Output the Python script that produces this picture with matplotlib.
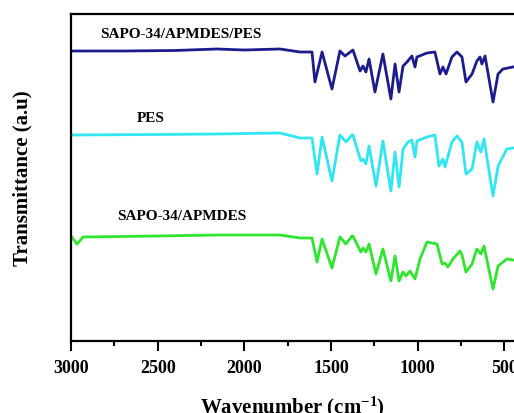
import matplotlib
matplotlib.use("Agg")
from matplotlib import pyplot as plt
from matplotlib.ticker import MultipleLocator

# FTIR spectra (wavenumber in cm-1, transmittance in arbitrary units, already offset)
wn_composite = [3000, 2700, 2400, 2160, 2000, 1795, 1679, 1610, 1593, 1552, 1495, 1449, 1420, 1374,
                1333, 1316, 1299, 1281, 1247, 1201, 1155, 1131, 1108, 1085, 1062, 1034, 1016, 1005,
                947, 901, 872, 855, 837, 803, 774, 745, 722, 687, 659, 641, 630, 612, 566, 537, 509, 451]
t_composite = [290, 290, 290.5, 292, 291, 292, 289, 289, 259, 289, 252, 290, 285, 291,
               270, 275, 269, 282, 249, 287, 242, 277, 249, 275, 279, 285, 274, 284,
               288, 289, 267, 274, 267, 284, 289, 284, 259, 267, 280, 284, 277, 285, 239, 267, 272, 274]

wn_pes = [3000, 2500, 2160, 1795, 1679, 1610, 1581, 1552, 1495, 1449, 1414, 1380, 1374,
          1328, 1316, 1299, 1281, 1241, 1201, 1155, 1131, 1108, 1085, 1057, 1034, 1016, 1005,
          947, 901, 878, 855, 843, 803, 774, 745, 722, 687, 659, 636, 618, 566, 537, 486, 451]
t_pes = [206, 206.5, 207, 208, 203, 203, 167, 204, 160, 206, 199, 206, 206,
         180, 182, 177, 195, 155, 200, 150, 189, 154, 192, 199, 201, 184, 200,
         204, 206, 175, 182, 174, 199, 205, 199, 167, 172, 199, 189, 202, 145, 175, 192, 193]

wn_sapo = [3000, 2965, 2930, 2500, 2160, 1795, 1679, 1610, 1581, 1552, 1495, 1449, 1414, 1380, 1374,
           1328, 1316, 1299, 1281, 1241, 1201, 1155, 1131, 1108, 1085, 1068, 1045, 1016,
           987, 947, 889, 860, 843, 826, 797, 757, 745, 722, 687, 659, 636, 618, 566, 537, 486, 451]
t_sapo = [105, 97, 104, 105, 106, 106, 103, 103, 79, 102, 73, 104, 97, 105, 105,
          89, 93, 89, 97, 67, 92, 60, 85, 60, 69, 65, 70, 62,
          82, 99, 97, 77, 78, 74, 82, 90, 86, 69, 77, 92, 87, 95, 52, 75, 82, 81]

spectra = [
    (wn_composite, t_composite, "#1c1c8c", "SAPO-34/APMDES/PES", (2366, 307)),
    (wn_pes, t_pes, "#30e6f2", "PES", (2539, 223)),
    (wn_sapo, t_sapo, "#2ee62e", "SAPO-34/APMDES", (2360, 125)),
]

plt.rcParams["font.family"] = "Liberation Serif"
plt.rcParams["font.weight"] = "bold"
plt.rcParams["mathtext.fontset"] = "custom"
plt.rcParams["mathtext.rm"] = "Liberation Serif:bold"
plt.rcParams["mathtext.default"] = "rm"

fig = plt.figure(figsize=(5.14, 4.14), dpi=100)
ax = fig.add_axes([71 / 514, 72 / 414, 443 / 514, 327 / 414])

for wn, t, color, label, (lx, ly) in spectra:
    ax.plot(wn, t, color=color, lw=2)
    ax.text(lx, ly, label, ha="center", va="center", fontsize=11, fontweight="bold")

ax.set_xlim(3000, 445)
ax.set_ylim(0, 327)
ax.xaxis.set_major_locator(MultipleLocator(500))
ax.xaxis.set_minor_locator(MultipleLocator(250))
ax.tick_params(axis="x", which="major", direction="out", length=7, width=1.5, pad=6, labelsize=13)
ax.tick_params(axis="x", which="minor", direction="out", length=3.5, width=1.5)
ax.set_yticks([])
for side in ["left", "bottom", "top"]:
    ax.spines[side].set_linewidth(1.6)
ax.spines["right"].set_visible(False)

ax.set_xlabel("Wavenumber (cm$^{-1}$)", fontsize=15, fontweight="bold", labelpad=13)
ax.set_ylabel("Transmittance (a.u)", fontsize=15, fontweight="bold", labelpad=28)

fig.savefig("out.png", dpi=100)
